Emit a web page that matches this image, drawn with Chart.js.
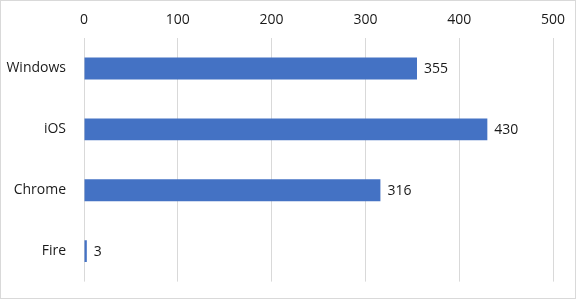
<!DOCTYPE html>
<html>
<head>
<meta charset="utf-8">
<script src="https://cdn.jsdelivr.net/npm/chart.js@4"></script>
<style>
  html, body { margin: 0; padding: 0; background: #fff; }
  #wrap { width: 576px; height: 300px; }
</style>
</head>
<body>
<div id="wrap"><canvas id="chart" width="576" height="300"></canvas></div>
<script>
const categories = ["Windows", "iOS", "Chrome", "Fire"]
const counts = [355, 430, 316, 3]
const xTicks = [0, 100, 200, 300, 400, 500]

const FONT = "'Open Sans', 'DejaVu Sans', sans-serif"
const TEXT = "#1a1a1a"

// value labels at the end of each bar
const valueLabels = {
  id: "valueLabels",
  afterDatasetsDraw(chart) {
    const { ctx } = chart
    const meta = chart.getDatasetMeta(0)
    ctx.save()
    ctx.font = "14px " + FONT
    ctx.fillStyle = TEXT
    ctx.textAlign = "left"
    ctx.textBaseline = "middle"
    meta.data.forEach((bar, i) => {
      ctx.fillText(String(counts[i]), bar.x + 7, bar.y + 1)
    })
    ctx.restore()
  }
}

// thin frame around the whole chart
const frame = {
  id: "frame",
  afterDraw(chart) {
    const { ctx, width, height } = chart
    ctx.save()
    ctx.strokeStyle = "#d9d9d9"
    ctx.lineWidth = 1
    ctx.strokeRect(0.5, 0.5, width - 1, height - 2)
    ctx.restore()
  }
}

new Chart(document.getElementById("chart"), {
  type: "bar",
  data: {
    labels: categories,
    datasets: [{
      data: counts,
      backgroundColor: "#4472C4",
      barPercentage: 0.72,
      categoryPercentage: 0.5
    }]
  },
  plugins: [valueLabels, frame],
  options: {
    indexAxis: "y",
    responsive: false,
    animation: false,
    layout: { padding: { top: 6, right: 23, bottom: 9, left: 0 } },
    plugins: { legend: { display: false }, tooltip: { enabled: false } },
    scales: {
      x: {
        position: "top",
        min: 0,
        max: 500,
        afterBuildTicks(axis) { axis.ticks = xTicks.map(v => ({ value: v })) },
        grid: { color: "#d9d9d9", drawTicks: false },
        border: { display: false },
        ticks: { color: TEXT, font: { family: FONT, size: 14 }, padding: 10 },
        afterFit(axis) { axis.height = 32 }
      },
      y: {
        grid: { display: false },
        border: { display: false },
        ticks: { color: TEXT, font: { family: FONT, size: 14 }, padding: 10 },
        afterFit(axis) { axis.width = 84 }
      }
    }
  }
})
</script>
</body>
</html>
